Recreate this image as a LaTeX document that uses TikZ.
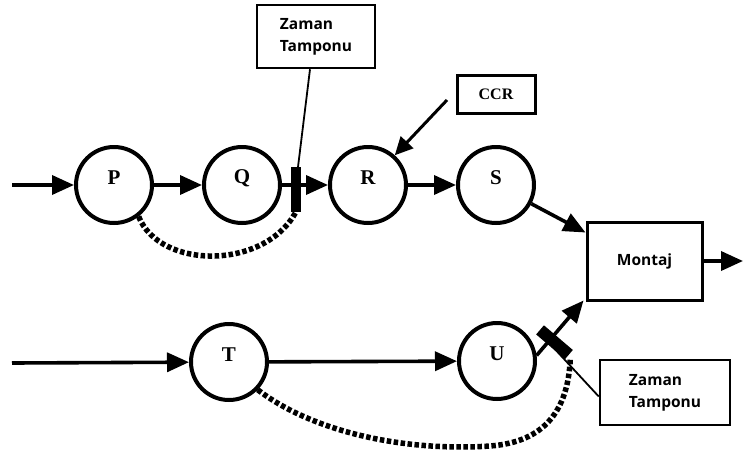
\documentclass[tikz,border=0pt]{standalone}
\usepackage{fontspec}
\setmainfont{Liberation Serif}
\newfontfamily\boxfont{Open Sans}
\usetikzlibrary{arrows.meta}
\begin{document}
\begin{tikzpicture}[x=1pt,y=-1pt,
  flow/.style={line width=3.6pt,-{Triangle[length=22pt,width=19pt]}},
  circ/.style={circle,draw,line width=4pt,minimum size=76pt,inner sep=0pt},
  lab/.style={font=\fontsize{21}{21}\selectfont\bfseries,yshift=7pt},
  sbox/.style={draw,line width=2.5pt,align=left,font=\boxfont\fontsize{15.5}{22}\selectfont\bfseries},
  bar/.style={fill=black,draw=none,inner sep=0pt},
  buffer/.style={line width=5.5pt,dash pattern=on 4.5pt off 2.5pt},
  pointer/.style={line width=1.8pt}]
\useasboundingbox (0,0) rectangle (744,461);

% work stations
\node[circ,label={[lab]center:P}] (p) at (114,185) {};
\node[circ,label={[lab]center:Q}] (q) at (242,185) {};
\node[circ,label={[lab]center:R}] (r) at (368,185) {};
\node[circ,label={[lab]center:S}] (s) at (496,185) {};
\node[circ,label={[lab]center:T}] (t) at (229,362) {};
\node[circ,label={[lab]center:U}] (u) at (497,361) {};

% assembly and callout boxes
\node[sbox,line width=3pt,minimum width=115pt,minimum height=78pt] (montaj) at (644.5,261) {Montaj};
\node[sbox,minimum width=118pt,minimum height=63pt] (zt1) at (316,36.5) {Zaman\\Tamponu};
\node[sbox,minimum width=130pt,minimum height=65pt] (zt2) at (665,392.5) {Zaman\\Tamponu};
\node[draw,line width=3pt,minimum width=78pt,minimum height=38pt,font=\fontsize{16}{16}\selectfont\bfseries] (ccr) at (496,94) {CCR};

% free ends
\coordinate (in1) at (12,185);
\coordinate (in2) at (12,363);
\coordinate (out) at (743,261);
\coordinate (sm) at ([yshift=-12pt]montaj.north west);
\coordinate (um) at ([xshift=-2pt,yshift=1pt]montaj.south west);
\coordinate (ccrtail) at (447,100);

% top line
\draw[flow] (in1) -- (p);
\draw[flow] (p) -- (q);
\draw[flow] (q) -- (r);
\draw[flow] (r) -- (s);
\draw[flow] (s) -- (sm);

% bottom line, with the time buffer set across the U--Montaj link
\draw[flow] (in2) -- (t);
\draw[flow] (t) -- (u);
\draw[pointer] ([yshift=-4pt]zt2.west) -- (552,346);
\draw[flow] (u.8) -- node[bar,sloped,pos=0.3,yshift=-5pt,minimum width=12pt,minimum height=38pt] (bar2) {} (um);

% output of assembly
\draw[flow] (montaj) -- (out);

% callouts
\draw[pointer] ([xshift=-6pt]zt1.south) -- (298,167);
\draw[line width=3pt,-{Triangle[length=18pt,width=17pt]}] (ccrtail) -- (r.48);

% time buffer on the Q--R link
\node[bar,minimum width=10pt,minimum height=45pt] (bar1) at (296,189) {};

\draw[buffer] (p.-52) .. controls (160,270) and (265,270) .. (bar1.south);
\draw[buffer] (t.-44) .. controls (310,430) and (400,452) .. (490,446)
  .. controls (545,442) and (568,410) .. ([yshift=-3pt]bar2.south);
\end{tikzpicture}
\end{document}
